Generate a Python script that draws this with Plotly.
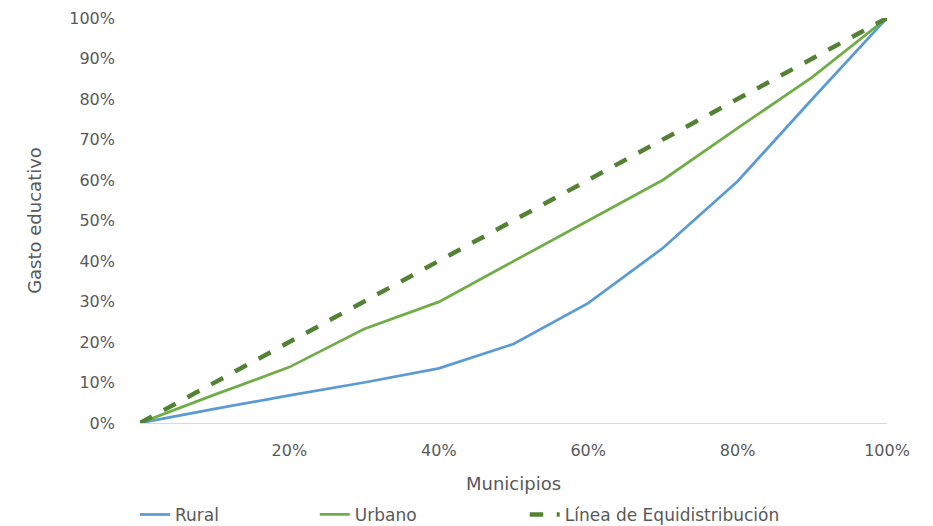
import plotly.graph_objects as go

x_vals = [0, 0.1, 0.2, 0.3, 0.4, 0.5, 0.6, 0.7, 0.8, 0.9, 1.0]
rural = [0, 0.035, 0.068, 0.100, 0.135, 0.195, 0.296, 0.432, 0.597, 0.800, 1.0]
urbano = [0, 0.070, 0.138, 0.232, 0.299, 0.400, 0.499, 0.600, 0.728, 0.854, 1.0]
equi = [0, 0.1, 0.2, 0.3, 0.4, 0.5, 0.6, 0.7, 0.8, 0.9, 1.0]

x_ticks = [0.2, 0.4, 0.6, 0.8, 1.0]
x_ticklabels = ["20%", "40%", "60%", "80%", "100%"]
y_ticks = [i / 10 for i in range(11)]
y_ticklabels = [f"{i*10}%" for i in range(11)]

FONT = "DejaVu Sans"
GRAY = "#595959"

fig = go.Figure()
fig.add_trace(go.Scatter(x=x_vals, y=rural, name="Rural", mode="lines", legend="legend",
                         line=dict(color="#5B9BD5", width=2.75)))
fig.add_trace(go.Scatter(x=x_vals, y=urbano, name="Urbano", mode="lines", legend="legend2",
                         line=dict(color="#70AD47", width=2.75)))
fig.add_trace(go.Scatter(x=x_vals, y=equi, name="Línea de Equidistribución", mode="lines",
                         legend="legend3",
                         line=dict(color="#548235", width=4.5, dash="dash")))

leg_common = dict(orientation="h", xanchor="left", y=-0.227, yanchor="middle",
                  font=dict(family=FONT, size=17, color=GRAY), itemwidth=30,
                  bgcolor="rgba(0,0,0,0)")

fig.update_layout(
    width=933, height=526,
    margin=dict(l=140, r=46, t=18, b=103, autoexpand=False),
    paper_bgcolor="white", plot_bgcolor="white",
    font=dict(family=FONT, size=16, color=GRAY),
    showlegend=True,
    legend=dict(x=-0.0067, **leg_common),
    legend2=dict(x=0.234, **leg_common),
    legend3=dict(x=0.515, **leg_common),
    xaxis=dict(range=[0, 1], tickvals=x_ticks, ticktext=x_ticklabels,
               showgrid=False, zeroline=False, showline=True, linecolor="#D9D9D9",
               linewidth=1, ticks="", ticklabelstandoff=13,
               title=dict(text="Municipios", font=dict(family=FONT, size=18, color=GRAY),
                          standoff=18)),
    yaxis=dict(range=[0, 1], tickvals=y_ticks, ticktext=y_ticklabels,
               showgrid=False, zeroline=False, showline=False, ticks="",
               ticklabelstandoff=24,
               title=dict(text="Gasto educativo", font=dict(family=FONT, size=18, color=GRAY),
                          standoff=22)),
)

fig.write_html("out.html", config={"displayModeBar": False},
               post_script="document.body.style.margin='0';")
